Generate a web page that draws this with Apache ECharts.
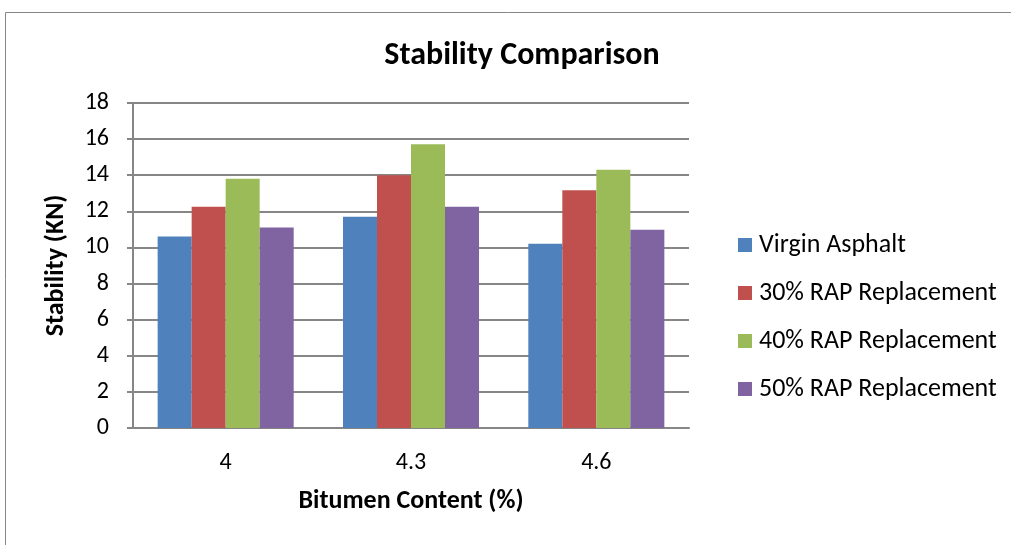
<!DOCTYPE html>
<html>
<head>
<meta charset="utf-8">
<script src="https://cdn.jsdelivr.net/npm/echarts@6/dist/echarts.min.js"></script>
<style>
html,body{margin:0;padding:0;background:#fff;}
#c{width:1011px;height:545px;}
</style>
</head>
<body>
<div id="c"></div>
<script>
const categories = ['4', '4.3', '4.6'];
const seriesNames = ['Virgin Asphalt', '30% RAP Replacement', '40% RAP Replacement', '50% RAP Replacement'];
const virginAsphalt = [10.6, 11.7, 10.2];
const rap30 = [12.25, 14.0, 13.17];
const rap40 = [13.8, 15.72, 14.31];
const rap50 = [11.1, 12.26, 10.98];
const yTicks = [0, 2, 4, 6, 8, 10, 12, 14, 16, 18];
const colors = ['#4F81BD', '#C0504D', '#9BBB59', '#8064A2'];

const FONT = "Carlito, 'Liberation Sans Narrow', 'Liberation Sans', sans-serif";
const values = [virginAsphalt, rap30, rap40, rap50];

const chart = echarts.init(document.getElementById('c'), null, {renderer: 'canvas'});
chart.setOption({
  animation: false,
  backgroundColor: '#fff',
  color: colors,
  graphic: [{
    type: 'rect', silent: true,
    shape: {x: 5.5, y: 12.5, width: 1200, height: 700},
    style: {fill: 'none', stroke: '#868686', lineWidth: 1}
  }],
  title: {
    text: 'Stability Comparison',
    left: 517, top: 35, textAlign: 'center',
    textStyle: {fontFamily: FONT, fontWeight: 'bold', fontSize: 32, color: '#000'}
  },
  legend: {
    orient: 'vertical',
    left: 733, top: 227,
    itemWidth: 14, itemHeight: 14, itemGap: 22,
    icon: 'rect',
    data: seriesNames,
    textStyle: {fontFamily: FONT, fontSize: 26, color: '#000', lineHeight: 26, padding: [0, 0, 0, 2]}
  },
  grid: {left: 133, right: 322, top: 103, bottom: 117, containLabel: false},
  xAxis: {
    type: 'category',
    data: categories,
    name: 'Bitumen Content (%)',
    nameLocation: 'middle',
    nameGap: 60,
    nameTextStyle: {fontFamily: FONT, fontWeight: 'bold', fontSize: 26, color: '#000'},
    axisLine: {lineStyle: {color: '#868686', width: 2}},
    axisTick: {show: false},
    axisLabel: {fontFamily: FONT, fontSize: 24, color: '#000', margin: 23}
  },
  yAxis: {
    type: 'value',
    min: 0, max: 18, interval: 2,
    name: 'Stability (KN)',
    nameLocation: 'middle',
    nameGap: 64,
    nameTextStyle: {fontFamily: FONT, fontWeight: 'bold', fontSize: 26, color: '#000'},
    axisLine: {show: true, lineStyle: {color: '#868686', width: 2}},
    axisTick: {show: true, inside: false, length: 6, lineStyle: {color: '#868686', width: 2}},
    splitLine: {lineStyle: {color: '#868686', width: 2}},
    axisLabel: {fontFamily: FONT, fontSize: 24, color: '#000', margin: 24,
      formatter: v => yTicks.includes(v) ? String(v) : ''}
  },
  series: seriesNames.map((n, i) => ({
    name: n,
    type: 'bar',
    data: values[i],
    barGap: '0%',
    barCategoryGap: '26.6%',
    itemStyle: {color: colors[i]}
  }))
});
</script>
</body>
</html>
